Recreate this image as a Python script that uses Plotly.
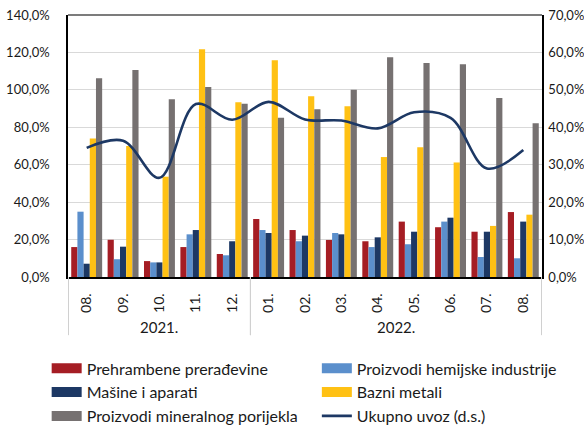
import plotly.graph_objects as go

years = ["2021."] * 5 + ["2022."] * 8
months = ["08.", "09.", "10.", "11.", "12.", "01.", "02.", "03.", "04.", "05.", "06.", "07.", "08."]

prehrambene = [16.0, 19.9, 8.5, 16.0, 12.3, 31.0, 25.1, 19.8, 19.1, 29.6, 26.6, 24.2, 34.7]
hemijske = [34.9, 9.5, 7.8, 22.8, 11.6, 25.1, 19.1, 23.5, 16.0, 17.5, 29.6, 10.7, 10.0]
masine = [7.1, 16.2, 7.8, 25.1, 19.1, 23.5, 22.1, 22.8, 21.2, 24.2, 31.7, 24.2, 29.6]
bazni = [74.0, 70.0, 53.6, 121.7, 93.4, 115.8, 96.6, 91.2, 64.1, 69.3, 61.2, 27.3, 33.3]
mineralni = [106.2, 110.6, 95.0, 101.5, 92.6, 85.1, 89.6, 100.1, 117.4, 114.4, 113.7, 95.6, 82.1]
ukupno = [34.5, 36.4, 26.5, 46.2, 42.0, 46.8, 42.1, 41.8, 39.7, 44.0, 42.5, 29.0, 33.9]

x_ids = [m + y for m, y in zip(months, years)]

FONT = "Lato"
TXT = "#1a1a1a"
LINE_COL = "#1D3864"

fig = go.Figure()
# (name, values, colour, legend column)
bar_series = [
    ("Prehrambene prerađevine", prehrambene, "#A51D24", "legend"),
    ("Proizvodi hemijske industrije", hemijske, "#5B8FCC", "legend2"),
    ("Mašine i aparati", masine, "#1D3864", "legend"),
    ("Bazni metali", bazni, "#FFC114", "legend2"),
    ("Proizvodi mineralnog porijekla", mineralni, "#767171", "legend"),
]
for name, vals, col, lg in bar_series:
    fig.add_trace(go.Bar(x=x_ids, y=vals, name=name, legendgroup=name, showlegend=False,
                         marker=dict(color=col, line=dict(width=0))))

fig.add_trace(go.Scatter(x=x_ids, y=ukupno, name="Ukupno uvoz (d.s.)", yaxis="y2", mode="lines",
                         showlegend=False,
                         line=dict(color=LINE_COL, width=2.6, shape="spline", smoothing=1.0)))

# legend entries (wide rectangular swatches like the original)
for name, vals, col, lg in bar_series:
    fig.add_trace(go.Scatter(x=[None], y=[None], mode="lines", name=name, legendgroup=name,
                             legend=lg, line=dict(color=col, width=10)))
fig.add_trace(go.Scatter(x=[None], y=[None], mode="lines", name="Ukupno uvoz (d.s.)",
                         legend="legend2", line=dict(color=LINE_COL, width=2.6)))

# year group labels and separators
annotations = []
shapes = []
uniq = []
for y in years:
    if y not in uniq:
        uniq.append(y)
for y in uniq:
    idx = [i for i, yy in enumerate(years) if yy == y]
    annotations.append(dict(x=(idx[0] + idx[-1]) / 2, y=-0.19, xref="x", yref="paper", text=y,
                            showarrow=False, font=dict(family=FONT, size=15, color=TXT), yanchor="middle"))
    for xb in (idx[0] - 0.5, idx[-1] + 0.5):
        shapes.append(dict(type="line", xref="x", yref="paper", x0=xb, x1=xb, y0=0, y1=-0.222,
                           line=dict(color="#D0D0D0", width=1)))
shapes.append(dict(type="line", xref="paper", yref="paper", x0=0, x1=1, y0=1, y1=1,
                   line=dict(color="#505050", width=1.5)))

legend_common = dict(orientation="v", xanchor="left", y=-0.284, yanchor="top",
                     traceorder="normal", font=dict(family=FONT, size=16, color=TXT),
                     bgcolor="rgba(0,0,0,0)", itemwidth=30, tracegroupgap=0)

fig.update_layout(
    width=584, height=426,
    margin=dict(l=68, r=42, t=15, b=149, autoexpand=False),
    paper_bgcolor="white", plot_bgcolor="white",
    separators=",.",
    barmode="group", bargap=0.15, bargroupgap=0,
    font=dict(family=FONT, size=13, color=TXT),
    xaxis=dict(type="category", categoryarray=x_ids, tickvals=x_ids, ticktext=months,
               tickangle=-90, showline=True, linecolor="black", linewidth=1.5,
               ticks="", showgrid=False, ticklabelstandoff=9, automargin=False,
               tickfont=dict(family=FONT, size=14, color=TXT)),
    yaxis=dict(range=[0, 140], dtick=20, tickformat=".1f", ticksuffix="%", showgrid=True,
               gridcolor="#D9D9D9", gridwidth=1, showline=True, linecolor="black", linewidth=1.5,
               ticks="", zeroline=False, ticklabelstandoff=14, automargin=False,
               tickfont=dict(family=FONT, size=13, color=TXT)),
    yaxis2=dict(range=[0, 70], dtick=10, tickformat=".1f", ticksuffix="%", overlaying="y", side="right",
                showgrid=False, showline=True, linecolor="black", linewidth=1.5, ticks="", zeroline=False,
                ticklabelstandoff=2, automargin=False, tickfont=dict(family=FONT, size=13, color=TXT)),
    legend=dict(x=-0.045, **legend_common),
    legend2=dict(x=0.525, **legend_common),
    annotations=annotations,
    shapes=shapes,
)

fig.write_html("out.html", config={"displayModeBar": False},
               post_script="document.body.style.margin='0px';")
